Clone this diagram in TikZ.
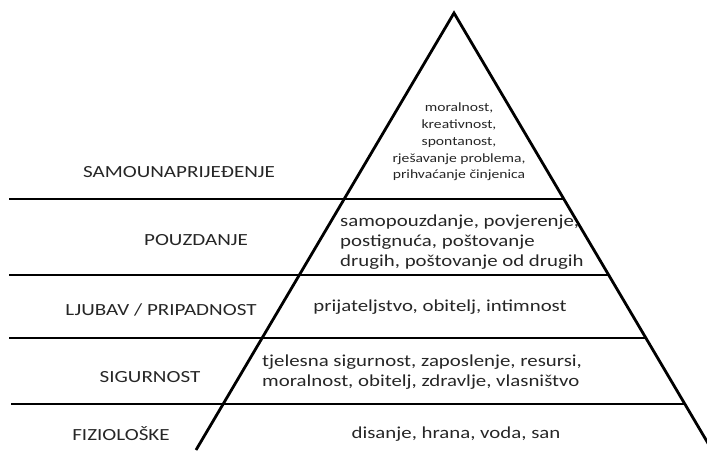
\documentclass[tikz,border=0pt]{standalone}
\usepackage{fontspec}
\usepackage{graphicx}
\setmainfont{Carlito}
\newcommand\widetxt[1]{\scalebox{1.24}[1]{#1}}
\begin{document}
\begin{tikzpicture}[x=1pt,y=-1pt,
  edge/.style={line width=2.8pt},
  lvl/.style={font=\fontsize{17}{20}\selectfont,text=black!85,inner sep=0pt,anchor=center},
  desc/.style={font=\fontsize{16.8}{20}\selectfont,text=black!85,inner sep=0pt},
  topdesc/.style={font=\fontsize{12.6}{16.7}\selectfont,text=black!85,inner sep=0pt}]
\useasboundingbox (0,0) rectangle (707,450);
\clip (0,0) rectangle (707,450);
% triangle
\coordinate (apex) at (454,13);
\coordinate (bl) at (196,450);
\coordinate (br) at (712,450);
\draw[edge,line join=miter] (bl) -- (apex) -- (br);
% horizontal lines
\coordinate (l1a) at (9,199);  \coordinate (l1b) at (564,199);
\coordinate (l2a) at (9,275);  \coordinate (l2b) at (609,275);
\coordinate (l3a) at (9,338);  \coordinate (l3b) at (646,338);
\coordinate (l4a) at (11,404); \coordinate (l4b) at (685,404);
\draw[edge] (l1a) -- (l1b);
\draw[edge] (l2a) -- (l2b);
\draw[edge] (l3a) -- (l3b);
\draw[edge] (l4a) -- (l4b);
% level labels
\node[lvl] (n1) at (179,172) {\widetxt{SAMOUNAPRIJEĐENJE}};
\node[lvl] (n2) at (196,240) {\widetxt{POUZDANJE}};
\node[lvl] (n3) at (161,310) {\widetxt{LJUBAV / PRIPADNOST}};
\node[lvl] (n4) at (150,377) {\widetxt{SIGURNOST}};
\node[lvl] (n5) at (121,434) {\widetxt{FIZIOLOŠKE}};
% descriptions
\node[topdesc] (d1) at (459,142) {\widetxt{\begin{tabular}{@{}c@{}}moralnost,\\kreativnost,\\spontanost,\\rješavanje problema,\\prihvaćanje činjenica\end{tabular}}};
\node[desc,anchor=west] (d2) at (340,242) {\widetxt{\begin{tabular}{@{}l@{}}samopouzdanje, povjerenje,\\postignuća, poštovanje\\drugih, poštovanje od drugih\end{tabular}}};
\node[desc] (d3) at (440,307) {\widetxt{prijateljstvo, obitelj, intimnost}};
\node[desc,anchor=west] (d4) at (262,372) {\widetxt{\begin{tabular}{@{}l@{}}tjelesna sigurnost, zaposlenje, resursi,\\moralnost, obitelj, zdravlje, vlasništvo\end{tabular}}};
\node[desc] (d5) at (456,434) {\widetxt{disanje, hrana, voda, san}};
\end{tikzpicture}
\end{document}
